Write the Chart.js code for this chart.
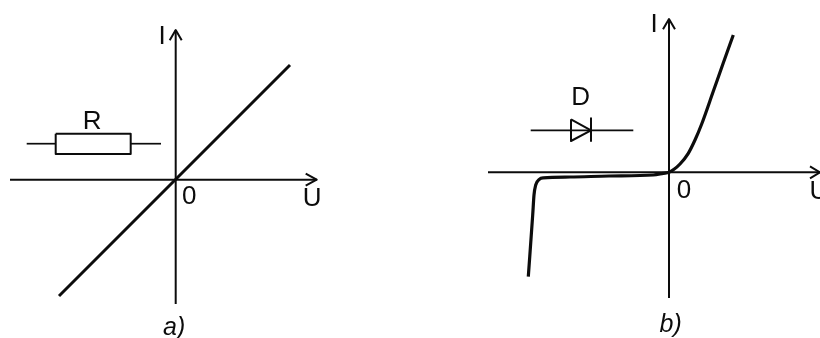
<!DOCTYPE html>
<html>
<head>
<meta charset="utf-8">
<script src="https://cdn.jsdelivr.net/npm/chart.js@4/dist/chart.umd.min.js"></script>
<style>
  html, body { margin: 0; padding: 0; background: #fff; }
  #wrap { position: relative; width: 820px; height: 338px; overflow: hidden; }
  canvas { position: absolute; top: 0; }
  #chartA { left: 0; }
  #chartB { left: 410px; }
</style>
</head>
<body>
<div id="wrap">
  <canvas id="chartA" width="410" height="338"></canvas>
  <canvas id="chartB" width="410" height="338"></canvas>
</div>
<script>
// ===============================
// data, panel a) resistor
// ===============================
const resistorCurve = [[-116.7, -116.3], [114.3, 114.7]];
const resistorAxisU = [[-165.7, 0], [141, 0]];
const resistorAxisI = [[0, -124.3], [0, 149.7]];
const resistorArrowU = [[130, 6], [141, 0], [130, -6]];
const resistorArrowI = [[-6, 139.5], [0, 149.7], [6, 139.5]];
const resistorBox = [[-120, 46], [-45, 46], [-45, 25.7], [-120, 25.7], [-120, 46]];
const resistorLeadL = [[-149, 36], [-120, 36]];
const resistorLeadR = [[-45, 36], [-14.7, 36]];
const resistorLabels = ["I", "0", "U", "R"];
const resistorLabelPos = [[-13.5, 143], [13.5, -17], [136.5, -19.5], [-83.5, 58]];
const resistorCaption = "a)";
const resistorCaptionPos = [-1.5, -148.5];

// ===============================
// data, panel b) diode
// ===============================
const diodeCurve = [
  [-140.7, -104.3], [-136.3, -42.7], [-135, -22.7], [-133.3, -12.7], [-129.7, -7],
  [-125.7, -5.5], [-99, -4.7], [-60, -3.7], [-15.7, -2.7], [-5.7, -1], [0, 0],
  [5, 3], [11, 8.3], [19.3, 19], [26, 32.3], [32.7, 48.3], [44.3, 81], [54, 108.5], [64.3, 137.3]
];
const diodeAxisU = [[-181, 0], [151, 0]];
const diodeAxisI = [[0, -125.7], [0, 153.3]];
const diodeArrowU = [[141, 6], [151, 0], [141, -6]];
const diodeArrowI = [[-6, 143], [0, 153.3], [6, 143]];
const diodeTriangle = [[-98, 53], [-78, 42], [-98, 31.3], [-98, 53]];
const diodeBar = [[-78, 54], [-78, 31.3]];
const diodeLead = [[-138.3, 42], [-35.7, 42]];
const diodeLabels = ["I", "0", "U", "D"];
const diodeLabelPos = [[-15, 147.5], [15, -18.5], [150, -20], [-88.3, 74.5]];
const diodeCaption = "b)";
const diodeCaptionPos = [1.7, -152.7];

// ===============================
// helpers
// ===============================
const INK = "#0c0c0c";

function line(points, width, smooth) {
  return {
    data: points.map(p => ({ x: p[0], y: p[1] })),
    showLine: true,
    borderColor: INK,
    borderWidth: width,
    pointRadius: 0,
    tension: 0,
    cubicInterpolationMode: smooth ? "monotone" : "default",
    borderJoinStyle: "round",
    fill: false
  };
}

// draws the letters at data positions through the scales
const textPlugin = {
  id: "textPlugin",
  afterDraw(chart, args, opts) {
    const ctx = chart.ctx;
    const sx = chart.scales.x;
    const sy = chart.scales.y;
    ctx.save();
    ctx.fillStyle = INK;
    ctx.textAlign = "center";
    ctx.textBaseline = "middle";
    ctx.font = '26px "Liberation Sans"';
    opts.labels.forEach((t, i) => {
      ctx.fillText(t, sx.getPixelForValue(opts.pos[i][0]), sy.getPixelForValue(opts.pos[i][1]));
    });
    ctx.font = 'italic 25px "Liberation Sans"';
    ctx.fillText(opts.caption, sx.getPixelForValue(opts.captionPos[0]), sy.getPixelForValue(opts.captionPos[1]));
    ctx.restore();
  }
};

function makePanel(id, xMin, xMax, yMin, yMax, datasets, labels, pos, caption, captionPos) {
  return new Chart(document.getElementById(id), {
    type: "scatter",
    data: { datasets },
    plugins: [textPlugin],
    options: {
      responsive: false,
      animation: false,
      layout: { padding: 0 },
      plugins: {
        legend: { display: false },
        tooltip: { enabled: false },
        textPlugin: { labels, pos, caption, captionPos }
      },
      scales: {
        x: { type: "linear", display: false, min: xMin, max: xMax },
        y: { type: "linear", display: false, min: yMin, max: yMax }
      }
    }
  });
}

// ===============================
// charts
// ===============================
makePanel("chartA", -175.7, 234.3, -158.3, 179.7, [
  line(resistorAxisU, 2),
  line(resistorAxisI, 2),
  line(resistorArrowU, 2),
  line(resistorArrowI, 2),
  line(resistorBox, 2),
  line(resistorLeadL, 1.7),
  line(resistorLeadR, 1.7),
  line(resistorCurve, 3)
], resistorLabels, resistorLabelPos, resistorCaption, resistorCaptionPos);

makePanel("chartB", -259, 151, -165.7, 172.3, [
  line(diodeAxisU, 2),
  line(diodeAxisI, 2),
  line(diodeArrowU, 2),
  line(diodeArrowI, 2),
  line(diodeTriangle, 2),
  line(diodeBar, 2),
  line(diodeLead, 1.7),
  line(diodeCurve, 3.2, true)
], diodeLabels, diodeLabelPos, diodeCaption, diodeCaptionPos);
</script>
</body>
</html>
